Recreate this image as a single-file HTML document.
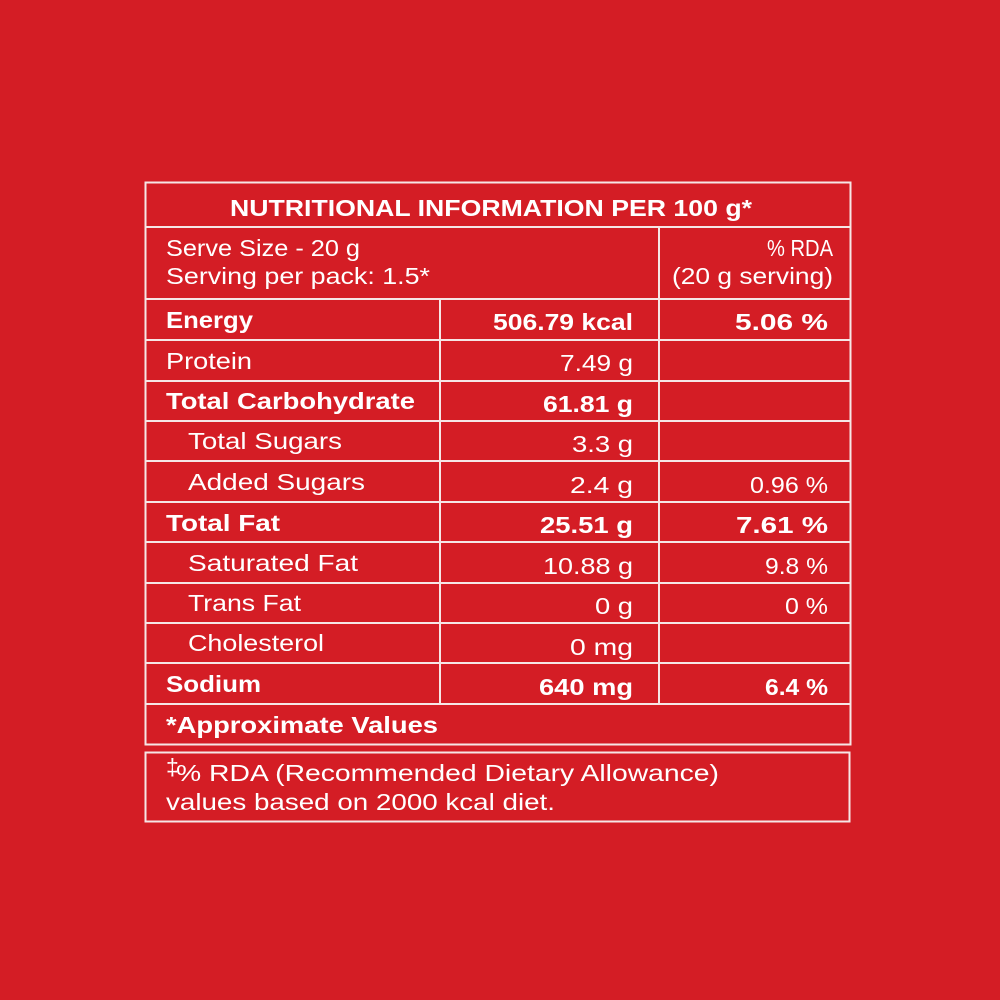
<!DOCTYPE html>
<html><head><meta charset="utf-8"><style>
html,body{margin:0;padding:0;background:#d41d25;}
svg{display:block}
text{font-family:"Liberation Sans","DejaVu Sans",sans-serif;fill:#fff;font-size:23px}
.b{font-weight:bold}
</style></head><body>
<svg width="1000" height="1000" viewBox="0 0 1000 1000">
<rect width="1000" height="1000" fill="#d41d25"/>
<g stroke="#f6e6e6" stroke-width="2" fill="none">
<rect x="145.5" y="182.5" width="705" height="562"/>
<line x1="145" y1="227" x2="851" y2="227"/>
<line x1="145" y1="299" x2="851" y2="299"/>
<line x1="659" y1="227" x2="659" y2="299"/>
<line x1="145" y1="340" x2="851" y2="340"/>
<line x1="145" y1="381" x2="851" y2="381"/>
<line x1="145" y1="421" x2="851" y2="421"/>
<line x1="145" y1="461" x2="851" y2="461"/>
<line x1="145" y1="502" x2="851" y2="502"/>
<line x1="145" y1="542" x2="851" y2="542"/>
<line x1="145" y1="583" x2="851" y2="583"/>
<line x1="145" y1="623" x2="851" y2="623"/>
<line x1="145" y1="663" x2="851" y2="663"/>
<line x1="145" y1="704" x2="851" y2="704"/>
<line x1="440" y1="299" x2="440" y2="704"/>
<line x1="659" y1="299" x2="659" y2="704"/>
<rect x="145.5" y="752.5" width="704" height="69"/>
</g>
<g lengthAdjust="spacingAndGlyphs">
<text x="230" y="216" class="b" textLength="522" lengthAdjust="spacingAndGlyphs">NUTRITIONAL INFORMATION PER 100 g*</text>
<text x="166" y="256" textLength="194" lengthAdjust="spacingAndGlyphs">Serve Size - 20 g</text>
<text x="166" y="284" textLength="264" lengthAdjust="spacingAndGlyphs">Serving per pack: 1.5*</text>
<text x="767" y="256" textLength="66" lengthAdjust="spacingAndGlyphs">% RDA</text>
<text x="672" y="284" textLength="161" lengthAdjust="spacingAndGlyphs">(20 g serving)</text>

<text x="166" y="328" class="b" textLength="87" lengthAdjust="spacingAndGlyphs">Energy</text>
<text x="493" y="330" class="b" textLength="140" lengthAdjust="spacingAndGlyphs">506.79 kcal</text>
<text x="735" y="330" class="b" textLength="93" lengthAdjust="spacingAndGlyphs">5.06 %</text>

<text x="166" y="369" textLength="86" lengthAdjust="spacingAndGlyphs">Protein</text>
<text x="560" y="371" textLength="73" lengthAdjust="spacingAndGlyphs">7.49 g</text>

<text x="166" y="409" class="b" textLength="249" lengthAdjust="spacingAndGlyphs">Total Carbohydrate</text>
<text x="543" y="412" class="b" textLength="90" lengthAdjust="spacingAndGlyphs">61.81 g</text>

<text x="188" y="449" textLength="154" lengthAdjust="spacingAndGlyphs">Total Sugars</text>
<text x="572" y="452" textLength="61" lengthAdjust="spacingAndGlyphs">3.3 g</text>

<text x="188" y="490" textLength="177" lengthAdjust="spacingAndGlyphs">Added Sugars</text>
<text x="570" y="493" textLength="63" lengthAdjust="spacingAndGlyphs">2.4 g</text>
<text x="750" y="493" textLength="78" lengthAdjust="spacingAndGlyphs">0.96 %</text>

<text x="166" y="531" class="b" textLength="114" lengthAdjust="spacingAndGlyphs">Total Fat</text>
<text x="540" y="533" class="b" textLength="93" lengthAdjust="spacingAndGlyphs">25.51 g</text>
<text x="736" y="533" class="b" textLength="92" lengthAdjust="spacingAndGlyphs">7.61 %</text>

<text x="188" y="571" textLength="170" lengthAdjust="spacingAndGlyphs">Saturated Fat</text>
<text x="543" y="574" textLength="90" lengthAdjust="spacingAndGlyphs">10.88 g</text>
<text x="765" y="574" textLength="63" lengthAdjust="spacingAndGlyphs">9.8 %</text>

<text x="188" y="611" textLength="113" lengthAdjust="spacingAndGlyphs">Trans Fat</text>
<text x="595" y="614" textLength="38" lengthAdjust="spacingAndGlyphs">0 g</text>
<text x="785" y="614" textLength="43" lengthAdjust="spacingAndGlyphs">0 %</text>

<text x="188" y="651" textLength="136" lengthAdjust="spacingAndGlyphs">Cholesterol</text>
<text x="570" y="655" textLength="63" lengthAdjust="spacingAndGlyphs">0 mg</text>

<text x="166" y="692" class="b" textLength="95" lengthAdjust="spacingAndGlyphs">Sodium</text>
<text x="539" y="695" class="b" textLength="94" lengthAdjust="spacingAndGlyphs">640 mg</text>
<text x="765" y="695" class="b" textLength="63" lengthAdjust="spacingAndGlyphs">6.4 %</text>

<text x="166" y="733" class="b" textLength="272" lengthAdjust="spacingAndGlyphs">*Approximate Values</text>
</g>
<text x="166" y="775" font-size="13">‡</text>
<text x="176" y="781" textLength="543" lengthAdjust="spacingAndGlyphs">% RDA (Recommended Dietary Allowance)</text>
<text x="166" y="810" textLength="389" lengthAdjust="spacingAndGlyphs">values based on 2000 kcal diet.</text>
</svg>
</body></html>
